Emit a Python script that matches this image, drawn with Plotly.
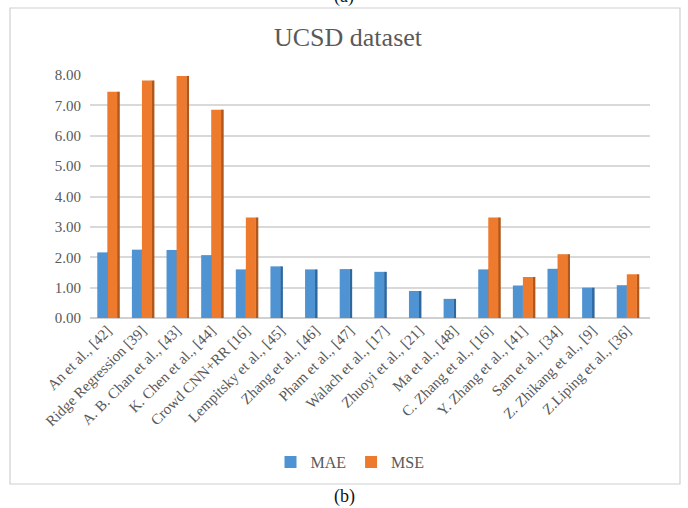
import plotly.graph_objects as go

# Methods compared on the UCSD crowd-counting dataset
methods = [
    "An et al., [42]", "Ridge Regression [39]", "A. B. Chan et al., [43]",
    "K. Chen et al., [44]", "Crowd CNN+RR [16]", "Lempitsky et al., [45]",
    "Zhang et al., [46]", "Pham et al., [47]", "Walach et al., [17]",
    "Zhuoyi et al., [21]", "Ma et al., [48]", "C. Zhang et al., [16]",
    "Y. Zhang et al., [41]", "Sam et al., [34]", "Z. Zhikang et al., [9]",
    "Z.Liping et al., [36]",
]
mae = [2.16, 2.25, 2.24, 2.07, 1.60, 1.70, 1.60, 1.61, 1.52, 0.89, 0.63, 1.60, 1.07, 1.62, 1.00, 1.08]
mse = [7.45, 7.82, 7.97, 6.86, 3.31, 0.00, 0.00, 0.00, 0.00, 0.00, 0.00, 3.31, 1.35, 2.10, 0.00, 1.44]
y_ticks = [0, 1, 2, 3, 4, 5, 6, 7, 8]

xpos = list(range(len(methods)))

SERIF = "Liberation Serif"
GREY = "#595959"

W, H = 688, 508
ML, MR, MT, MB = 90, 38, 75, 190
PW, PH = W - ML - MR, H - MT - MB


def px_x(p):
    return (p - ML) / PW


def px_y(p):
    return (H - MB - p) / PH


fig = go.Figure()

bar_w = 0.29
side_w = 0.08
mae_off = -0.29
mse_off = 0.0

# darker side faces give the bars a bit of depth
fig.add_trace(go.Bar(x=xpos, y=mae, offset=mae_off + bar_w - 0.01, width=side_w,
                     marker=dict(color="#2F679F", line=dict(width=0)),
                     showlegend=False, hoverinfo="skip"))
fig.add_trace(go.Bar(x=xpos, y=mae, offset=mae_off, width=bar_w, name="MAE",
                     marker=dict(color="#5093D3", line=dict(width=0))))
fig.add_trace(go.Bar(x=xpos, y=mse, offset=mse_off + bar_w - 0.01, width=side_w,
                     marker=dict(color="#B0581C", line=dict(width=0)),
                     showlegend=False, hoverinfo="skip"))
fig.add_trace(go.Bar(x=xpos, y=mse, offset=mse_off, width=bar_w, name="MSE",
                     marker=dict(color="#EE7A2E", line=dict(width=0))))

fig.update_layout(
    width=W, height=H,
    margin=dict(l=ML, r=MR, t=MT, b=MB),
    paper_bgcolor="white", plot_bgcolor="white",
    barmode="overlay",
    font=dict(family=SERIF, color=GREY),
    title=dict(text="UCSD dataset", x=348 / W, xanchor="center", xref="container",
               y=1 - 37 / H, yanchor="middle",
               font=dict(family=SERIF, size=26, color=GREY)),
    xaxis=dict(range=[-0.5, len(methods) - 0.33], tickmode="array", tickvals=xpos,
               ticktext=methods, tickangle=-45, showgrid=False, zeroline=False,
               showline=False, ticks="", tickfont=dict(family=SERIF, size=15, color=GREY)),
    yaxis=dict(range=[0, 8], tickmode="array", tickvals=y_ticks, tickformat=".2f",
               showgrid=True, gridcolor="#D9D9D9", gridwidth=1.5, zeroline=True,
               zerolinecolor="#D0D0D0", zerolinewidth=2, ticks="",
               ticklabelstandoff=8,
               tickfont=dict(family=SERIF, size=15, color=GREY)),
    legend=dict(orientation="h", x=px_x(350), xanchor="center", y=px_y(462),
                yanchor="middle", font=dict(family=SERIF, size=16, color=GREY),
                itemwidth=30, traceorder="normal"),
    shapes=[dict(type="rect", xref="paper", yref="paper",
                 x0=px_x(10), x1=px_x(680), y0=px_y(484), y1=px_y(8),
                 line=dict(color="#D0D0D0", width=1.2), fillcolor="rgba(0,0,0,0)",
                 layer="below")],
    annotations=[
        dict(text="(b)", xref="paper", yref="paper", x=px_x(344), y=px_y(497),
             xanchor="center", yanchor="middle", showarrow=False,
             font=dict(family=SERIF, size=18, color="#111111")),
        dict(text="(a)", xref="paper", yref="paper", x=px_x(344), y=px_y(-3),
             xanchor="center", yanchor="middle", showarrow=False,
             font=dict(family=SERIF, size=18, color="#111111")),
    ],
)

fig.write_html("out.html")
